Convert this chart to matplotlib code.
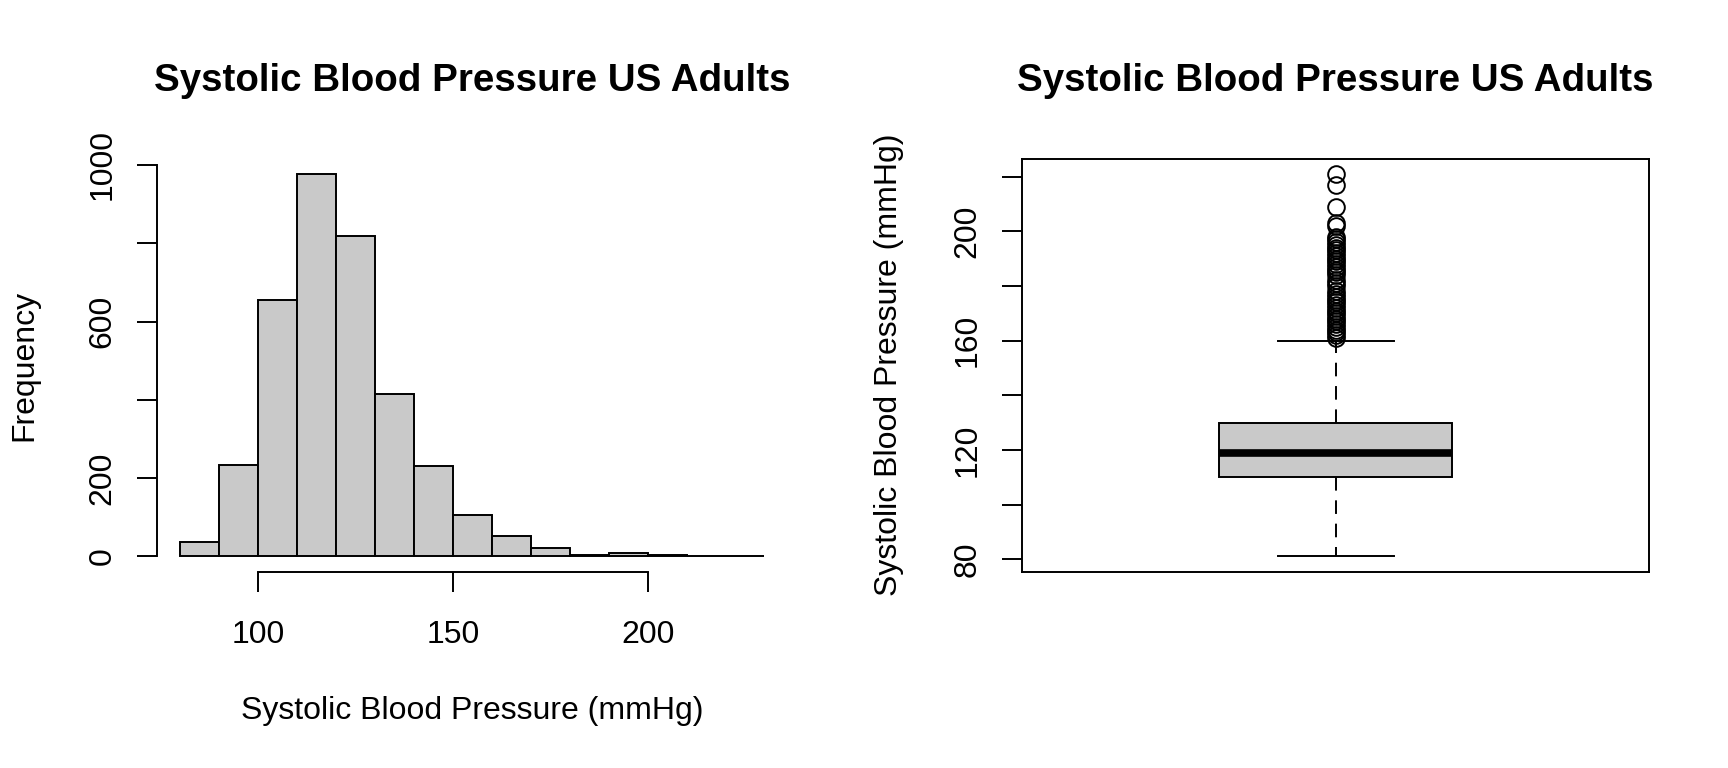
import matplotlib
matplotlib.use("Agg")
import matplotlib.pyplot as plt

plt.rcParams['font.family'] = ['Liberation Sans', 'DejaVu Sans']

# histogram of systolic blood pressure (bin edges and counts)
bin_edges = [80, 90, 100, 110, 120, 130, 140, 150, 160, 170, 180, 190, 200, 210, 220, 230]
bin_counts = [37, 233, 656, 977, 819, 415, 231, 107, 53, 22, 4, 9, 5, 1, 1]

# box plot summary
bp_low_whisker = 81
bp_q1 = 110
bp_median = 119
bp_q3 = 130
bp_high_whisker = 160
bp_outliers = [161, 162, 163, 164, 165, 166, 167, 168, 169, 170, 171, 172, 173, 174,
               175, 176, 177, 178, 180, 181, 182, 184, 185, 186, 187, 188, 189, 190,
               191, 192, 193, 194, 195, 196, 197, 198, 202, 203, 209, 217, 221]

title = "Systolic Blood Pressure US Adults"
xlab = "Systolic Blood Pressure (mmHg)"

FS = 23
LW = 1.4
GREY = '#c9c9c9'

fig = plt.figure(figsize=(17.28, 7.68), dpi=100)
ax1 = fig.add_axes([0.0909, 0.2555, 0.365, 0.538])
ax2 = fig.add_axes([0.5915, 0.2555, 0.3628, 0.538])

# ---- histogram ----
widths = [b - a for a, b in zip(bin_edges[:-1], bin_edges[1:])]
ax1.bar(bin_edges[:-1], bin_counts, width=widths, align='edge',
        color=GREY, edgecolor='black', linewidth=LW)
xr = bin_edges[-1] - bin_edges[0]
ax1.set_xlim(bin_edges[0] - 0.04 * xr, bin_edges[-1] + 0.04 * xr)
ymax = max(bin_counts)
ax1.set_ylim(-0.04 * ymax, 1.04 * ymax)
for s in ['top', 'right']:
    ax1.spines[s].set_visible(False)
ax1.spines['left'].set_bounds(0, 1000)
ax1.spines['bottom'].set_bounds(100, 200)
for s in ['left', 'bottom']:
    ax1.spines[s].set_linewidth(LW)
ax1.set_xticks([100, 150, 200])
ax1.set_yticks([0, 200, 400, 600, 800, 1000])
ax1.set_yticklabels(['0', '200', '', '600', '', '1000'])
ax1.tick_params(axis='both', direction='out', length=14.4, width=LW, labelsize=FS)
ax1.tick_params(axis='x', pad=20)
ax1.tick_params(axis='y', pad=14)
for lab in ax1.get_yticklabels():
    lab.set_rotation(90)
    lab.set_va('center')
ax1.set_title(title, fontsize=27.7, fontweight='bold', y=1.188, va='center', pad=0)
ax1.set_xlabel(xlab, fontsize=FS, va='center')
ax1.xaxis.set_label_coords(0.5, -0.338)
ax1.set_ylabel('Frequency', fontsize=FS, va='center')
ax1.yaxis.set_label_coords(-0.211, 0.5)

# ---- box plot ----
stats = [dict(med=bp_median, q1=bp_q1, q3=bp_q3, whislo=bp_low_whisker,
              whishi=bp_high_whisker, fliers=bp_outliers)]
ax2.bxp(stats, positions=[1], widths=0.4, capwidths=0.2, patch_artist=True,
        boxprops=dict(facecolor=GREY, edgecolor='black', linewidth=LW),
        medianprops=dict(color='black', linewidth=5.5, solid_capstyle='butt'),
        whiskerprops=dict(color='black', linewidth=LW, linestyle=(0, (7, 5))),
        capprops=dict(color='black', linewidth=LW),
        flierprops=dict(marker='o', markerfacecolor='none', markeredgecolor='black',
                        markersize=12, markeredgewidth=LW))
ax2.set_xlim(0.46, 1.54)
yr = max(bp_outliers) - bp_low_whisker
ax2.set_ylim(bp_low_whisker - 0.04 * yr, max(bp_outliers) + 0.04 * yr)
for s in ax2.spines.values():
    s.set_linewidth(LW)
ax2.set_xticks([])
ax2.set_yticks([80, 100, 120, 140, 160, 180, 200, 220])
ax2.set_yticklabels(['80', '', '120', '', '160', '', '200', ''])
ax2.tick_params(axis='y', direction='out', length=14.4, width=LW, labelsize=FS, pad=14)
for lab in ax2.get_yticklabels():
    lab.set_rotation(90)
    lab.set_va('center')
ax2.set_title(title, fontsize=27.7, fontweight='bold', y=1.188, va='center', pad=0)
ax2.set_ylabel(xlab, fontsize=FS, va='center')
ax2.yaxis.set_label_coords(-0.213, 0.5)

fig.savefig('out.png', dpi=100, facecolor='white')
